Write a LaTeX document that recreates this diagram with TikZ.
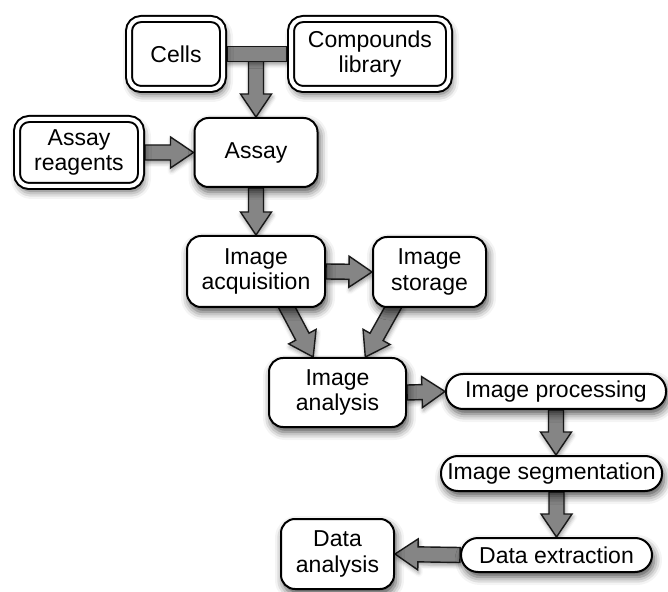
\documentclass[tikz,border=0pt]{standalone}
\usepackage{fontspec}
\setmainfont{Liberation Sans}
\usetikzlibrary{calc,backgrounds,shadows.blur}

% thick grey arrow from #1 to #2 (shaft 7.5pt, head 15.5pt wide)
\newcommand{\fatarrow}[2]{%
  \filldraw[fat] let \p1=($(#2)-(#1)$), \n1={atan2(\y1,\x1)}, \n2={veclen(\x1,\y1)-11.5pt} in
    ($(#1)+(\n1+90:3.75pt)$) -- ++(\n1:\n2) -- ++(\n1+90:4pt) -- (#2)
    -- ($(#1)+(\n1:\n2)+(\n1-90:7.75pt)$) -- ++(\n1+90:4pt)
    -- ($(#1)+(\n1-90:3.75pt)$) -- cycle;}

\begin{document}
\begin{tikzpicture}[x=0.5pt,y=-0.5pt,
    box/.style={draw, line width=1pt, rounded corners=7pt, fill=white, align=center,
      inner sep=1pt, font=\fontsize{11.5}{12.8}\selectfont,
      blur shadow={shadow xshift=1pt, shadow yshift=-2.5pt, shadow blur radius=4pt, shadow opacity=70}},
    dbox/.style={box, double, double distance=2pt, rounded corners=6pt, outer sep=2pt},
    pill/.style={box, rounded corners=8.5pt},
    fat/.style={fill=black!48, draw=black!90, line width=0.7pt,
      blur shadow={shadow xshift=0.5pt, shadow yshift=-1.5pt, shadow blur radius=2pt, shadow opacity=40}}]
	\useasboundingbox (0,0) rectangle (668,592);
	
	% sources
	\node[dbox, minimum width=47pt, minimum height=35pt] (cells) at (176,54) {Cells};
	\node[dbox, minimum width=79pt, minimum height=35pt] (cmp) at (370,54) {Compounds\\library};
	\node[dbox, minimum width=62pt, minimum height=33.5pt] (reag) at (79,152.5) {Assay\\reagents};
	
	% main chain
	\node[box, minimum width=61.5pt, minimum height=34.5pt] (assay) at (256,152.5) {Assay};
	\node[box, minimum width=69pt, minimum height=35.5pt] (acq) at (256,271.5) {Image\\acquisition};
	\node[box, minimum width=56.5pt, minimum height=35pt] (stor) at (429.5,272) {Image\\storage};
	\node[box, minimum width=68.5pt, minimum height=34.5pt] (ana) at (337.5,392.5) {Image\\analysis};
	
	% processing steps
	\node[pill, minimum width=110pt, minimum height=17.5pt] (proc) at (556,391.5) {Image processing};
	\node[pill, minimum width=110.5pt, minimum height=17.5pt] (seg) at (551.5,473.5) {Image segmentation};
	\node[pill, minimum width=95.5pt, minimum height=17pt] (ext) at (556.5,555) {Data extraction};
	\node[box, minimum width=56.5pt, minimum height=35pt] (dana) at (337.5,554) {Data\\analysis};
	
	\coordinate (join) at (assay.north |- cells.east);
	\coordinate (acqout) at ($(acq.south)!0.4!(acq.south east)+(0,-6)$);
	\coordinate (anain1) at ($(ana.north)!0.35!(ana.north west)$);
	\coordinate (storout) at ($(stor.south)!0.58!(stor.south west)+(0,-6)$);
	\coordinate (anain2) at ($(ana.north)!0.4!(ana.north east)$);
	\coordinate (segtop) at (proc.south |- seg.north);
	\coordinate (segbot) at (ext.north |- seg.south);
	
	\begin{scope}[on background layer]
		\fatarrow{join}{assay.north}
		\filldraw[fat] ([yshift=3.75pt]cells.east) rectangle ([yshift=-3.75pt]cmp.west);
		\fatarrow{reag.east}{assay.west}
		\fatarrow{assay.south}{acq.north}
		\fatarrow{acq.east}{stor.west}
		\fatarrow{acqout}{anain1}
		\fatarrow{storout}{anain2}
		\fatarrow{ana.east}{proc.west}
		\fatarrow{proc.south}{segtop}
		\fatarrow{segbot}{ext.north}
		\fatarrow{ext.west}{dana.east}
	\end{scope}
\end{tikzpicture}
\end{document}
